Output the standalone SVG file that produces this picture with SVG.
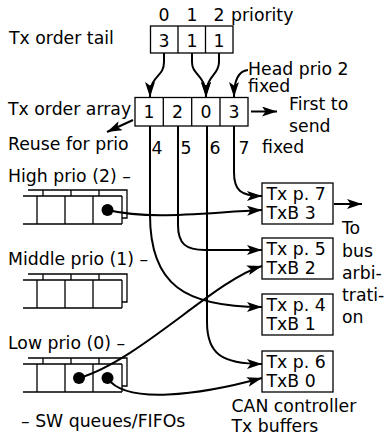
<svg xmlns="http://www.w3.org/2000/svg" width="384" height="436" viewBox="0 0 384 436">
<style>
text{font-family:"DejaVu Sans","Liberation Sans",sans-serif;font-size:17.3px;fill:#000}
.m{text-anchor:middle}
.box{fill:#fff;stroke:#000;stroke-width:1.3}
.q{fill:none;stroke:#000;stroke-width:1.3}
.c{fill:none;stroke:#000;stroke-width:2;marker-end:url(#ah)}
</style>
<defs>
<marker id="ah" markerUnits="userSpaceOnUse" markerWidth="15" markerHeight="10" refX="15" refY="5" orient="auto" viewBox="0 0 15 10">
<path d="M0,0 L15,5 L0,10 L3.5,5 Z" fill="#000"/>
</marker>
</defs>
<rect width="384" height="436" fill="#fff"/>

<g id="labels">
<text x="9" y="44">Tx order tail</text>
<text x="8" y="115">Tx order array</text>
<text x="8" y="150">Reuse for prio</text>
<text x="8" y="182">High prio (2) –</text>
<text x="8" y="265">Middle prio (1) –</text>
<text x="8" y="349">Low prio (0) –</text>
<text x="21" y="427">– SW queues/FIFOs</text>
<text x="231.5" y="412">CAN controller</text>
<text x="231.5" y="432">Tx buffers</text>
<text x="248" y="74.5">Head prio 2</text>
<text x="248" y="92">fixed</text>
<text x="289" y="110">First to</text>
<text x="289" y="131.5">send</text>
<text x="262" y="153">fixed</text>
<text x="342" y="234">To</text>
<text x="342" y="256.5">bus</text>
<text x="342" y="278.5">arbi-</text>
<text x="342" y="300.5">trati-</text>
<text x="342" y="323">on</text>
</g>

<g id="tail">
<text class="m" x="164" y="21">0</text>
<text class="m" x="192" y="21">1</text>
<text class="m" x="219" y="21">2</text>
<text x="231" y="21">priority</text>
<rect class="box" x="150.5" y="26" width="82.5" height="27"/>
<path class="q" d="M178,26 V53 M205.5,26 V53"/>
<text class="m" x="164" y="46.5">3</text>
<text class="m" x="192" y="46.5">1</text>
<text class="m" x="219" y="46.5">1</text>
</g>

<g id="array">
<rect class="box" x="135" y="97.5" width="113" height="28.5"/>
<path class="q" d="M163.3,97.5 V126 M191.7,97.5 V126 M220,97.5 V126"/>
<text class="m" x="149" y="117.5">1</text>
<text class="m" x="177.5" y="117.5">2</text>
<text class="m" x="206" y="117.5">0</text>
<text class="m" x="234" y="117.5">3</text>
<text x="151.5" y="154">4</text>
<text x="180.5" y="154">5</text>
<text x="209.5" y="154">6</text>
<text x="238.5" y="154">7</text>
</g>

<g id="queue-high">
<path class="q" d="M23,196 H122 M23,224 H122 M37,196 V224 M65,196 V224 M93,196 V224 M122,196 V224 M28,190 H127 V218 H122 M43,190 V196 M71,190 V196 M99,190 V196"/>
<circle cx="107.5" cy="210" r="6"/>
</g>
<g id="queue-middle">
<path class="q" d="M23,280 H122 M23,308 H122 M37,280 V308 M65,280 V308 M93,280 V308 M122,280 V308 M28,274 H127 V302 H122 M43,274 V280 M71,274 V280 M99,274 V280"/>
</g>
<g id="queue-low">
<path class="q" d="M23,364 H122 M23,392 H122 M37,364 V392 M65,364 V392 M93,364 V392 M122,364 V392 M28,358 H127 V386 H122 M43,358 V364 M71,358 V364 M99,358 V364"/>
<circle cx="79" cy="378" r="6"/>
<circle cx="107.5" cy="378" r="6"/>
</g>

<g id="txb3">
<rect class="box" x="262" y="183" width="71" height="41"/>
<text x="266.5" y="199.5">Tx p. 7</text>
<text x="266.5" y="219">TxB 3</text>
</g>
<g id="txb2">
<rect class="box" x="262" y="238" width="71" height="41"/>
<text x="266.5" y="254.5">Tx p. 5</text>
<text x="266.5" y="274">TxB 2</text>
</g>
<g id="txb1">
<rect class="box" x="262" y="294" width="71" height="41"/>
<text x="266.5" y="310.5">Tx p. 4</text>
<text x="266.5" y="330">TxB 1</text>
</g>
<g id="txb0">
<rect class="box" x="262" y="351" width="71" height="41"/>
<text x="266.5" y="367.5">Tx p. 6</text>
<text x="266.5" y="387">TxB 0</text>
</g>

<g id="connectors">
<path class="c" d="M164,53 V62 C164,78 150,74 150,97"/>
<path class="c" d="M192,53 V62 C192,76 206,74 206,97"/>
<path class="c" d="M219,53 V62 C219,76 206,74 206,97"/>
<path class="c" d="M248,70 C238,71 234,80 234,97"/>
<path class="c" d="M251,111.5 H277"/>
<path class="c" d="M133,120 L107,132"/>
<path class="c" d="M334,204 H362"/>
<path class="c" d="M150,126 V215 C150,285 185,307 262,307"/>
<path class="c" d="M178,126 V225 C178,244 186,250 205,250 H262"/>
<path class="c" d="M207,126 V322 C207,354 222,364 262,364"/>
<path class="c" d="M234,126 V172 C234,190 240,196 262,196"/>
<path class="c" d="M107.5,210 C150,220 200,213 262,210"/>
<path class="c" d="M79,378 C140,360 215,280 262,266"/>
<path class="c" d="M107.5,378 C125,405 200,395 262,378"/>
</g>
</svg>
